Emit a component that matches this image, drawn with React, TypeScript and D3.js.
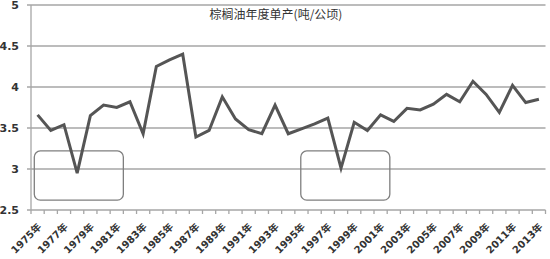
import React from "react";
import * as d3 from "d3";

const years: string[] = d3.range(1975, 2014).map((y) => `${y}年`);
const values: number[] = [
  3.66, 3.47, 3.54, 2.95, 3.65, 3.78, 3.75, 3.82, 3.43, 4.25,
  4.33, 4.40, 3.39, 3.47, 3.88, 3.61, 3.48, 3.43, 3.78, 3.43,
  3.49, 3.55, 3.62, 3.01, 3.57, 3.47, 3.66, 3.58, 3.74, 3.72,
  3.79, 3.91, 3.82, 4.07, 3.91, 3.69, 4.02, 3.81, 3.85,
];
const yTicks: number[] = [2.5, 3, 3.5, 4, 4.5, 5];
const yTickLabels: string[] = ["2.5", "3", "3.5", "4", "4.5", "5"];
const title = "棕榈油年度单产(吨/公顷)";
const boxes: { from: number; to: number; lo: number; hi: number }[] = [
  { from: 0.25, to: 7.0, lo: 2.62, hi: 3.22 },
  { from: 20.45, to: 27.2, lo: 2.62, hi: 3.22 },
];

export default function App() {
  const W = 550, H = 259;
  const left = 31, right = 545.5, top = 5, bottom = 210;
  const band = d3.scaleBand<string>().domain(years).range([left, right]).padding(0);
  const cx = (i: number) => (band(years[i]) as number) + band.bandwidth() / 2;
  const y = d3.scaleLinear().domain([2.5, 5]).range([bottom, top]);
  const line = d3
    .line<number>()
    .x((_, i) => cx(i))
    .y((d) => y(d));
  const bw = band.bandwidth();
  const bx = (v: number) => left + bw * v;
  return (
    <svg
      width={W}
      height={H}
      style={{ position: "absolute", left: 0, top: 0, background: "#fff" }}
    >
      {yTicks.map((t, i) => (
        <g key={t}>
          {i > 0 && (
            <line x1={left - 4} x2={right} y1={y(t)} y2={y(t)} stroke="#a6a6a6" strokeWidth={1.3} />
          )}
          <text
            x={19}
            y={y(t) + 0.5}
            dy="0.36em"
            textAnchor="end"
            fontFamily="DejaVu Sans, sans-serif"
            fontWeight="bold"
            fontSize={11}
            fill="#333"
          >
            {yTickLabels[i]}
          </text>
        </g>
      ))}
      <line x1={left} x2={left} y1={top} y2={bottom} stroke="#a6a6a6" strokeWidth={1.3} />
      <line x1={left - 4} x2={right} y1={bottom} y2={bottom} stroke="#a6a6a6" strokeWidth={1.3} />
      {years.map((_, i) => (
        <line
          key={"t" + i}
          x1={(band(years[i]) as number) + bw}
          x2={(band(years[i]) as number) + bw}
          y1={bottom}
          y2={bottom + 4}
          stroke="#a6a6a6"
          strokeWidth={1.3}
        />
      ))}
      <line x1={left} x2={left} y1={bottom} y2={bottom + 4} stroke="#a6a6a6" strokeWidth={1.3} />
      {boxes.map((b, i) => (
        <rect
          key={"b" + i}
          x={bx(b.from)}
          y={y(b.hi)}
          width={bx(b.to) - bx(b.from)}
          height={y(b.lo) - y(b.hi)}
          rx={6}
          ry={6}
          fill="none"
          stroke="#7f7f7f"
          strokeWidth={1.3}
        />
      ))}
      <path d={line(values) as string} fill="none" stroke="#555" strokeWidth={3} strokeLinejoin="miter" />
      <text
        x={276}
        y={19}
        textAnchor="middle"
        fontFamily="Noto Sans CJK SC, sans-serif"
        fontSize={12}
        fill="#333"
      >
        {title}
      </text>
      {years.map((yr, i) =>
        i % 2 === 0 ? (
          <text
            key={"l" + i}
            transform={`translate(${cx(i) + 2},${bottom + 15}) rotate(-45)`}
            textAnchor="end"
            dy="0.35em"
            fontFamily="DejaVu Sans, Noto Sans CJK SC, sans-serif"
            fontWeight="bold"
            fontSize={10}
            fill="#333"
          >
            {yr}
          </text>
        ) : null
      )}
    </svg>
  );
}
